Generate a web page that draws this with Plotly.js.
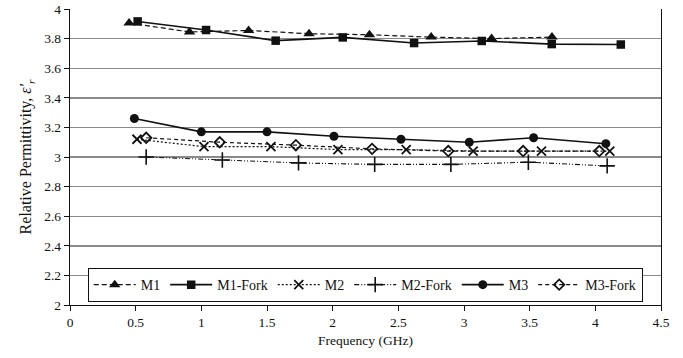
<!DOCTYPE html>
<html>
<head>
<meta charset="utf-8">
<script src="https://cdn.plot.ly/plotly-3.0.1.min.js"></script>
<style>html,body{margin:0;padding:0;background:#fff;}#chart{width:683px;height:358px;}</style>
</head>
<body>
<div id="chart"></div>
<script>
const m1Freq = [0.45, 0.91, 1.36, 1.82, 2.28, 2.75, 3.21, 3.67];
const m1Vals = [3.905, 3.845, 3.855, 3.833, 3.826, 3.81, 3.80, 3.81];
const m1ForkFreq = [0.515, 1.036, 1.566, 2.077, 2.62, 3.135, 3.668, 4.194];
const m1ForkVals = [3.916, 3.858, 3.786, 3.808, 3.77, 3.784, 3.763, 3.76];
const m2Freq = [0.51, 1.02, 1.53, 2.04, 2.56, 3.07, 3.59, 4.11];
const m2Vals = [3.12, 3.07, 3.07, 3.05, 3.05, 3.04, 3.04, 3.04];
const m2ForkFreq = [0.58, 1.16, 1.74, 2.32, 2.90, 3.49, 4.09];
const m2ForkVals = [3.00, 2.98, 2.96, 2.95, 2.95, 2.965, 2.94];
const m3Freq = [0.49, 1.0, 1.50, 2.01, 2.52, 3.04, 3.53, 4.08];
const m3Vals = [3.26, 3.17, 3.17, 3.14, 3.12, 3.10, 3.13, 3.09];
const m3ForkFreq = [0.58, 1.14, 1.72, 2.30, 2.88, 3.45, 4.03];
const m3ForkVals = [3.13, 3.10, 3.08, 3.055, 3.04, 3.04, 3.04];
const xTicks = [0, 0.5, 1, 1.5, 2, 2.5, 3, 3.5, 4, 4.5];
const yTicks = [2, 2.2, 2.4, 2.6, 2.8, 3, 3.2, 3.4, 3.6, 3.8, 4];

const K = '#111';
const traces = [
  {name: 'M1', x: m1Freq, y: m1Vals, mode: 'lines+markers',
   line: {color: K, width: 1.2, dash: '5px,3px'}, marker: {symbol: 'triangle-up', size: 10, color: K}},
  {name: 'M1-Fork', x: m1ForkFreq, y: m1ForkVals, mode: 'lines+markers',
   line: {color: K, width: 1.6}, marker: {symbol: 'square', size: 8.5, color: K}},
  {name: 'M2', x: m2Freq, y: m2Vals, mode: 'lines+markers',
   line: {color: K, width: 1.2, dash: '2px,2px'}, marker: {symbol: 'x-thin', size: 9, color: K, line: {color: K, width: 1.8}}},
  {name: 'M2-Fork', x: m2ForkFreq, y: m2ForkVals, mode: 'lines+markers',
   line: {color: K, width: 1.1, dash: '5px,2px,1px,2px,1px,2px'}, marker: {symbol: 'cross-thin', size: 11, color: K, line: {color: K, width: 1.6}}},
  {name: 'M3', x: m3Freq, y: m3Vals, mode: 'lines+markers',
   line: {color: K, width: 1.6}, marker: {symbol: 'circle', size: 9, color: K}},
  {name: 'M3-Fork', x: m3ForkFreq, y: m3ForkVals, mode: 'lines+markers',
   line: {color: K, width: 1.2, dash: '4px,3px'}, marker: {symbol: 'diamond-open', size: 8, color: K, line: {color: K, width: 1.8}}}
];

const layout = {
  width: 683, height: 358,
  margin: {l: 70, r: 22, t: 9, b: 53},
  paper_bgcolor: '#fff', plot_bgcolor: '#fff',
  font: {family: '"Liberation Serif", "Times New Roman", serif', size: 13.5, color: '#111'},
  showlegend: true,
  legend: {orientation: 'h', x: 0.03, y: 0.01, xanchor: 'left', yanchor: 'bottom',
    bgcolor: '#fff', bordercolor: '#111', borderwidth: 1,
    font: {family: '"Liberation Serif", serif', size: 14, color: '#111'},
    itemwidth: 42, tracegroupgap: 0},
  xaxis: {range: [0, 4.5], tickvals: xTicks, ticktext: xTicks.map(String),
    showgrid: false, zeroline: false, showline: true, linecolor: '#111', linewidth: 1.2,
    ticks: 'outside', ticklen: 5, tickcolor: '#111', mirror: false,
    title: {text: 'Frequency (GHz)', standoff: 6, font: {size: 13.5}}},
  yaxis: {range: [2, 4], tickvals: yTicks, ticktext: yTicks.map(v => String(v)),
    showgrid: true, gridcolor: '#8a8a8a', gridwidth: 1.4, zeroline: false,
    showline: true, linecolor: '#111', linewidth: 1.2, mirror: true,
    ticks: 'outside', ticklen: 5, tickcolor: '#111',
    title: {text: "Relative Permittivity, <i>ε'</i><sub><i>r</i></sub>", standoff: 8, font: {size: 16}}}
};

Plotly.newPlot('chart', traces, layout, {displayModeBar: false, staticPlot: true});
</script>
</body>
</html>
